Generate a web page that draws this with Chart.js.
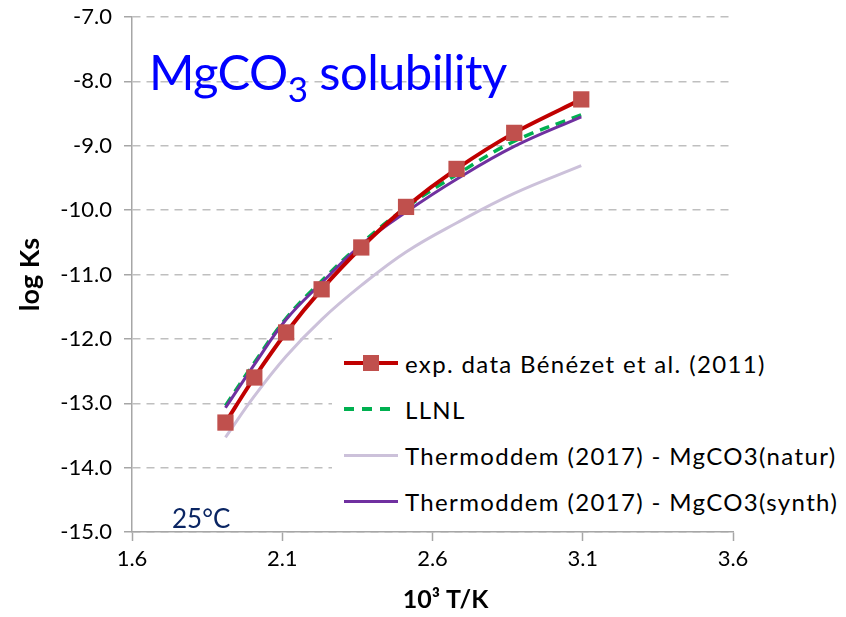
<!DOCTYPE html>
<html>
<head>
<meta charset="utf-8">
<script src="https://cdn.jsdelivr.net/npm/chart.js@4/dist/chart.umd.min.js"></script>
<style>
  html, body { margin: 0; padding: 0; background: #ffffff; }
  #wrap { position: relative; width: 846px; height: 617px; overflow: hidden; }
  #chart { position: absolute; left: 0; top: 0; }
  .ttl { position: absolute; left: 149px; top: 47px; font-family: Lato, sans-serif; font-size: 49px; line-height: 1; color: #0000FF; white-space: nowrap; letter-spacing: -0.6px; }
  .ttl sub { font-size: 35px; vertical-align: -12px; line-height: 0; }
  .note { position: absolute; left: 172px; top: 505px; font-family: Lato, sans-serif; font-size: 26px; line-height: 1; color: #0A2563; white-space: nowrap; }
  #legend { position: absolute; left: 332px; top: 338px; width: 514px; height: 193px; background: #ffffff; }
  .row { position: absolute; left: 12px; height: 30px; display: flex; align-items: center; font-family: Lato, sans-serif; font-size: 24px; letter-spacing: 1.35px; color: #000; white-space: nowrap; }
  .sample { position: relative; width: 54px; height: 4px; margin-right: 7px; }
  .sq { position: absolute; left: 19px; top: -6px; width: 16px; height: 16px; background: #C0504D; }
</style>
</head>
<body>
<div id="wrap">
  <canvas id="chart" width="846" height="617"></canvas>
  <div class="ttl">MgCO<sub>3</sub> solubility</div>
  <div class="note">25°C</div>
  <div id="legend"></div>
</div>
<script>
// 10^3/T (1/K) at the measured temperatures
const invT = [1.911, 2.007, 2.113, 2.231, 2.363, 2.512, 2.680, 2.872, 3.095];
// log Ks values
const expLogKs   = [-13.30, -12.60, -11.90, -11.23, -10.58, -9.95, -9.36, -8.80, -8.28];
const llnlLogKs  = [-13.04, -12.37, -11.68, -11.10, -10.52, -9.96, -9.45, -8.93, -8.52];
const naturLogKs = [-13.53, -12.89, -12.27, -11.70, -11.17, -10.65, -10.20, -9.74, -9.31];
const synthLogKs = [-13.07, -12.40, -11.70, -11.13, -10.54, -10.03, -9.52, -9.01, -8.55];
const seriesNames = [
  'exp. data Bénézet et al. (2011)',
  'LLNL',
  'Thermoddem (2017) - MgCO3(natur)',
  'Thermoddem (2017) - MgCO3(synth)'
];
const xTicks = [1.6, 2.1, 2.6, 3.1, 3.6];
const yTicks = [-15, -14, -13, -12, -11, -10, -9, -8, -7];
const xTitle = '10³ T/K';
const yTitle = 'log Ks';

const pts = arr => invT.map((x, i) => ({ x: x, y: arr[i] }));

const tickFont = { family: 'Lato, sans-serif', size: 22 };

const chart = new Chart(document.getElementById('chart'), {
  type: 'line',
  data: {
    datasets: [
      { label: seriesNames[3], data: pts(synthLogKs), borderColor: '#7030A0', borderWidth: 3, pointRadius: 0, tension: 0.4, fill: false, order: 2 },
      { label: seriesNames[2], data: pts(naturLogKs), borderColor: '#CCC1DA', borderWidth: 3, pointRadius: 0, tension: 0.4, fill: false, order: 4 },
      { label: seriesNames[1], data: pts(llnlLogKs), borderColor: '#00B050', borderWidth: 3.5, borderDash: [10, 7], pointRadius: 0, tension: 0.4, fill: false, order: 3 },
      { label: seriesNames[0], data: pts(expLogKs), borderColor: '#C00000', borderWidth: 4, pointStyle: 'rect', pointRadius: 11.5, pointBackgroundColor: '#C0504D', pointBorderColor: '#C0504D', pointBorderWidth: 0, tension: 0.3, fill: false, order: 1 }
    ]
  },
  options: {
    responsive: false,
    animation: false,
    devicePixelRatio: 1,
    layout: { padding: { top: 17, right: 113, left: 0, bottom: 0 } },
    plugins: { legend: { display: false }, tooltip: { enabled: false }, title: { display: false } },
    scales: {
      x: {
        type: 'linear',
        min: xTicks[0], max: xTicks[xTicks.length - 1],
        afterBuildTicks: s => { s.ticks = xTicks.map(v => ({ value: v })); },
        afterFit: s => {
          s.height = 85;
          if (!s._titleShifted) {
            const orig = s.drawTitle;
            s.drawTitle = function () {
              this.ctx.save();
              this.ctx.translate(13, 0);
              orig.apply(this, arguments);
              this.ctx.restore();
            };
            s._titleShifted = true;
          }
        },
        ticks: { font: tickFont, color: '#000000', padding: 5, callback: v => Number(v).toFixed(1) },
        grid: { display: true, drawOnChartArea: false, drawTicks: true, tickLength: 9, tickColor: '#A6A6A6', tickWidth: 1.5, tickBorderDash: [] },
        border: { display: true, color: '#A6A6A6', width: 1.5 },
        title: { display: true, text: xTitle, font: { family: 'Lato, sans-serif', size: 25, weight: 'bold' }, color: '#000000', padding: { top: 0, bottom: 2 } }
      },
      y: {
        type: 'linear',
        min: yTicks[0], max: yTicks[yTicks.length - 1],
        afterBuildTicks: s => { s.ticks = yTicks.map(v => ({ value: v })); },
        afterFit: s => { s.width = 132; s.paddingTop = 0; s.paddingBottom = 0; },
        ticks: { font: tickFont, color: '#000000', padding: 12, callback: v => Number(v).toFixed(1) },
        grid: { display: true, drawOnChartArea: true, color: '#BFBFBF', lineWidth: 1.5, drawTicks: true, tickLength: 8, tickColor: '#A6A6A6', tickWidth: 1.5, tickBorderDash: [] },
        border: { display: true, color: '#A6A6A6', width: 1.5, dash: [8, 6] },
        title: { display: true, text: yTitle, font: { family: 'Lato, sans-serif', size: 27, weight: 'bold' }, color: '#000000', padding: { top: 14, bottom: 0 } }
      }
    }
  }
});

// nudge the layout padding so the plot area lands where the reference has it
const target = { top: 17, bottom: 532, right: 733 };
const pad = chart.options.layout.padding;
pad.top += target.top - chart.chartArea.top;
pad.right += chart.chartArea.right - target.right;
pad.bottom += chart.chartArea.bottom - target.bottom;
chart.update();

// HTML legend built from the series names
const legendStyles = [
  { color: '#C00000', marker: true },
  { dash: '#00B050' },
  { color: '#CCC1DA' },
  { color: '#7030A0' }
];
const legend = document.getElementById('legend');
seriesNames.forEach((name, i) => {
  const row = document.createElement('div');
  row.className = 'row';
  row.style.top = (10 + i * 46) + 'px';
  const s = document.createElement('div');
  s.className = 'sample';
  const st = legendStyles[i];
  if (st.dash) {
    s.style.background = 'repeating-linear-gradient(to right, ' + st.dash + ' 0 10px, transparent 10px 18px)';
  } else {
    s.style.background = st.color;
    if (i >= 2) s.style.height = '3px';
  }
  if (st.marker) {
    const q = document.createElement('div');
    q.className = 'sq';
    s.appendChild(q);
  }
  const t = document.createElement('span');
  t.textContent = name;
  row.appendChild(s);
  row.appendChild(t);
  legend.appendChild(row);
});
</script>
</body>
</html>
